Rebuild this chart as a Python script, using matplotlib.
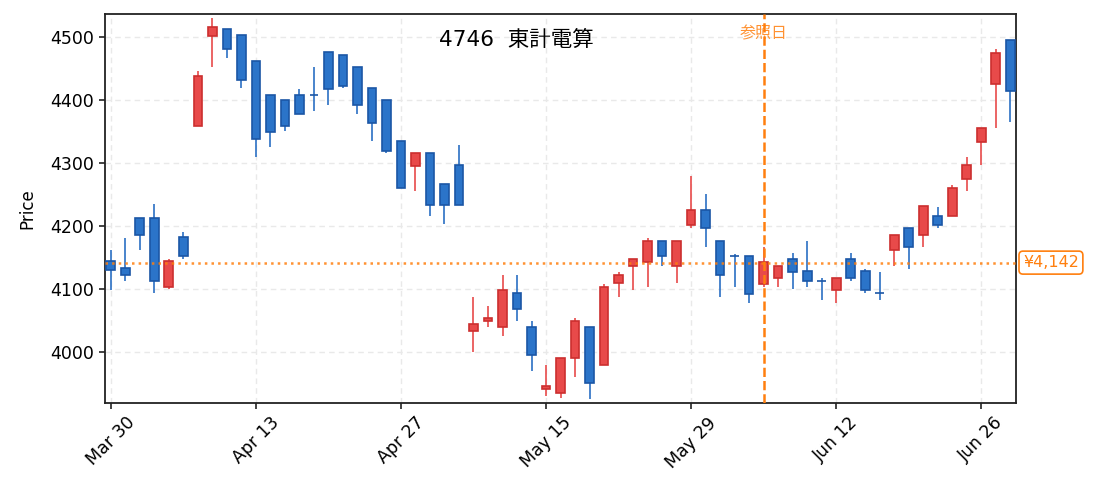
import numpy as np
import pandas as pd
import matplotlib
matplotlib.use('Agg')
import matplotlib.pyplot as plt
import matplotlib.transforms as mtransforms

plt.rcParams['font.family'] = ['DejaVu Sans', 'Noto Sans CJK JP']

code = '4746'
name = '東計電算'
holidays = ['2020-04-29', '2020-05-04', '2020-05-05', '2020-05-06']
dates = pd.bdate_range('2020-03-30', '2020-06-30', freq='C', holidays=holidays)

opens = [4144, 4133, 4212, 4212, 4103, 4182, 4358, 4501, 4512, 4502,
         4462, 4408, 4399, 4408, 4408, 4476, 4471, 4452, 4418, 4399,
         4334, 4295, 4315, 4266, 4296, 4034, 4050, 4040, 4094, 4040,
         3942, 3935, 3991, 4040, 3980, 4109, 4137, 4143, 4177, 4137,
         4202, 4226, 4177, 4153, 4153, 4108, 4118, 4148, 4128, 4113,
         4098, 4148, 4128, 4094, 4162, 4197, 4185, 4216, 4216, 4274,
         4333, 4425, 4495]
highs = [4162, 4181, 4213, 4235, 4147, 4190, 4446, 4530, 4512, 4502,
         4462, 4408, 4399, 4417, 4452, 4476, 4471, 4452, 4418, 4399,
         4334, 4315, 4315, 4266, 4328, 4088, 4073, 4122, 4122, 4050,
         3980, 3991, 4054, 4040, 4108, 4127, 4148, 4181, 4177, 4177,
         4279, 4251, 4177, 4156, 4153, 4166, 4137, 4157, 4176, 4117,
         4118, 4157, 4132, 4127, 4186, 4197, 4231, 4230, 4265, 4310,
         4355, 4480, 4495]
lows = [4099, 4113, 4162, 4094, 4100, 4148, 4358, 4452, 4467, 4418,
        4310, 4325, 4350, 4378, 4383, 4392, 4418, 4378, 4334, 4315,
        4260, 4256, 4216, 4203, 4234, 4001, 4040, 4025, 4050, 3971,
        3931, 3927, 3961, 3926, 3980, 4088, 4099, 4103, 4137, 4109,
        4197, 4167, 4088, 4104, 4078, 4104, 4104, 4100, 4104, 4083,
        4078, 4113, 4094, 4083, 4137, 4132, 4167, 4197, 4216, 4256,
        4296, 4356, 4365]
closes = [4131, 4122, 4185, 4113, 4144, 4152, 4437, 4516, 4480, 4431,
          4338, 4349, 4358, 4378, 4408, 4417, 4422, 4392, 4363, 4319,
          4260, 4315, 4234, 4234, 4234, 4045, 4055, 4099, 4068, 3995,
          3947, 3991, 4050, 3951, 4104, 4123, 4148, 4177, 4152, 4177,
          4226, 4197, 4122, 4153, 4093, 4143, 4137, 4127, 4113, 4113,
          4118, 4118, 4098, 4094, 4186, 4166, 4231, 4201, 4261, 4296,
          4355, 4475, 4414]

ref_date = '2020-06-05'
ref_price = 4142

orange = '#ff7f0e'
up_face, up_edge, up_wick = '#e84a4a', '#cc2f2f', '#e84a4a'
dn_face, dn_edge, dn_wick = '#2b74c9', '#1b56a6', '#2b70c4'

x = np.arange(len(dates))
o = np.array(opens)
h = np.array(highs)
l = np.array(lows)
c = np.array(closes)
up = c > o
dn = ~up

fig = plt.figure(figsize=(10.95, 4.92), dpi=100)
ax = fig.add_axes([0.0959, 0.1815, 0.8320, 0.790])

# wicks then bodies
ax.vlines(x[up], l[up], h[up], color=up_wick, linewidth=1.2, zorder=2)
ax.vlines(x[dn], l[dn], h[dn], color=dn_wick, linewidth=1.2, zorder=2)
ax.bar(x[up], c[up] - o[up], bottom=o[up], width=0.6, color=up_face,
       edgecolor=up_edge, linewidth=1.2, zorder=3)
ax.bar(x[dn], c[dn] - o[dn], bottom=o[dn], width=0.6, color=dn_face,
       edgecolor=dn_edge, linewidth=1.2, zorder=3)

ref_idx = int(np.where(dates == pd.Timestamp(ref_date))[0][0])
ax.axhline(ref_price, color=orange, linestyle=':', linewidth=1.8, alpha=0.85, zorder=4)
ax.axvline(ref_idx, color=orange, linestyle='--', linewidth=1.8, zorder=4)

ax.set_xlim(-0.4, len(dates) - 0.6)
ax.set_ylim(3920, 4536)
ax.set_xticks(x[::10])
ax.set_xticklabels(dates[::10].strftime('%b %d'), rotation=45, fontsize=12.5)
ax.set_yticks([4000, 4100, 4200, 4300, 4400, 4500])
ax.tick_params(axis='y', labelsize=12.5)
ax.tick_params(length=4.5, width=1.2, color='#222222')
ax.set_ylabel('Price', fontsize=12, labelpad=10)

ax.grid(True, color='#e9e9e9', linestyle=(0, (4, 3)), linewidth=1)
ax.set_axisbelow(True)
for s in ax.spines.values():
    s.set_linewidth(1.3)
    s.set_color('#222222')

ax.text(0.451, 0.933, code + '  ' + name, transform=ax.transAxes,
        ha='center', va='center', fontsize=15.5)

trans_x = mtransforms.blended_transform_factory(ax.transData, ax.transAxes)
ax.text(ref_idx, 0.95, '参照日', transform=trans_x, ha='center', va='center',
        color=orange, fontsize=11.5, alpha=0.85)

trans_y = mtransforms.blended_transform_factory(ax.transAxes, ax.transData)
ax.annotate('¥{:,}'.format(ref_price), xy=(1, ref_price), xycoords=trans_y,
            xytext=(5, 0), textcoords='offset points', ha='left', va='center',
            color=orange, fontsize=11.5, annotation_clip=False,
            bbox=dict(boxstyle='round,pad=0.25', fc='white', ec=orange, lw=1.2))

plt.savefig('out.png', dpi=100)
